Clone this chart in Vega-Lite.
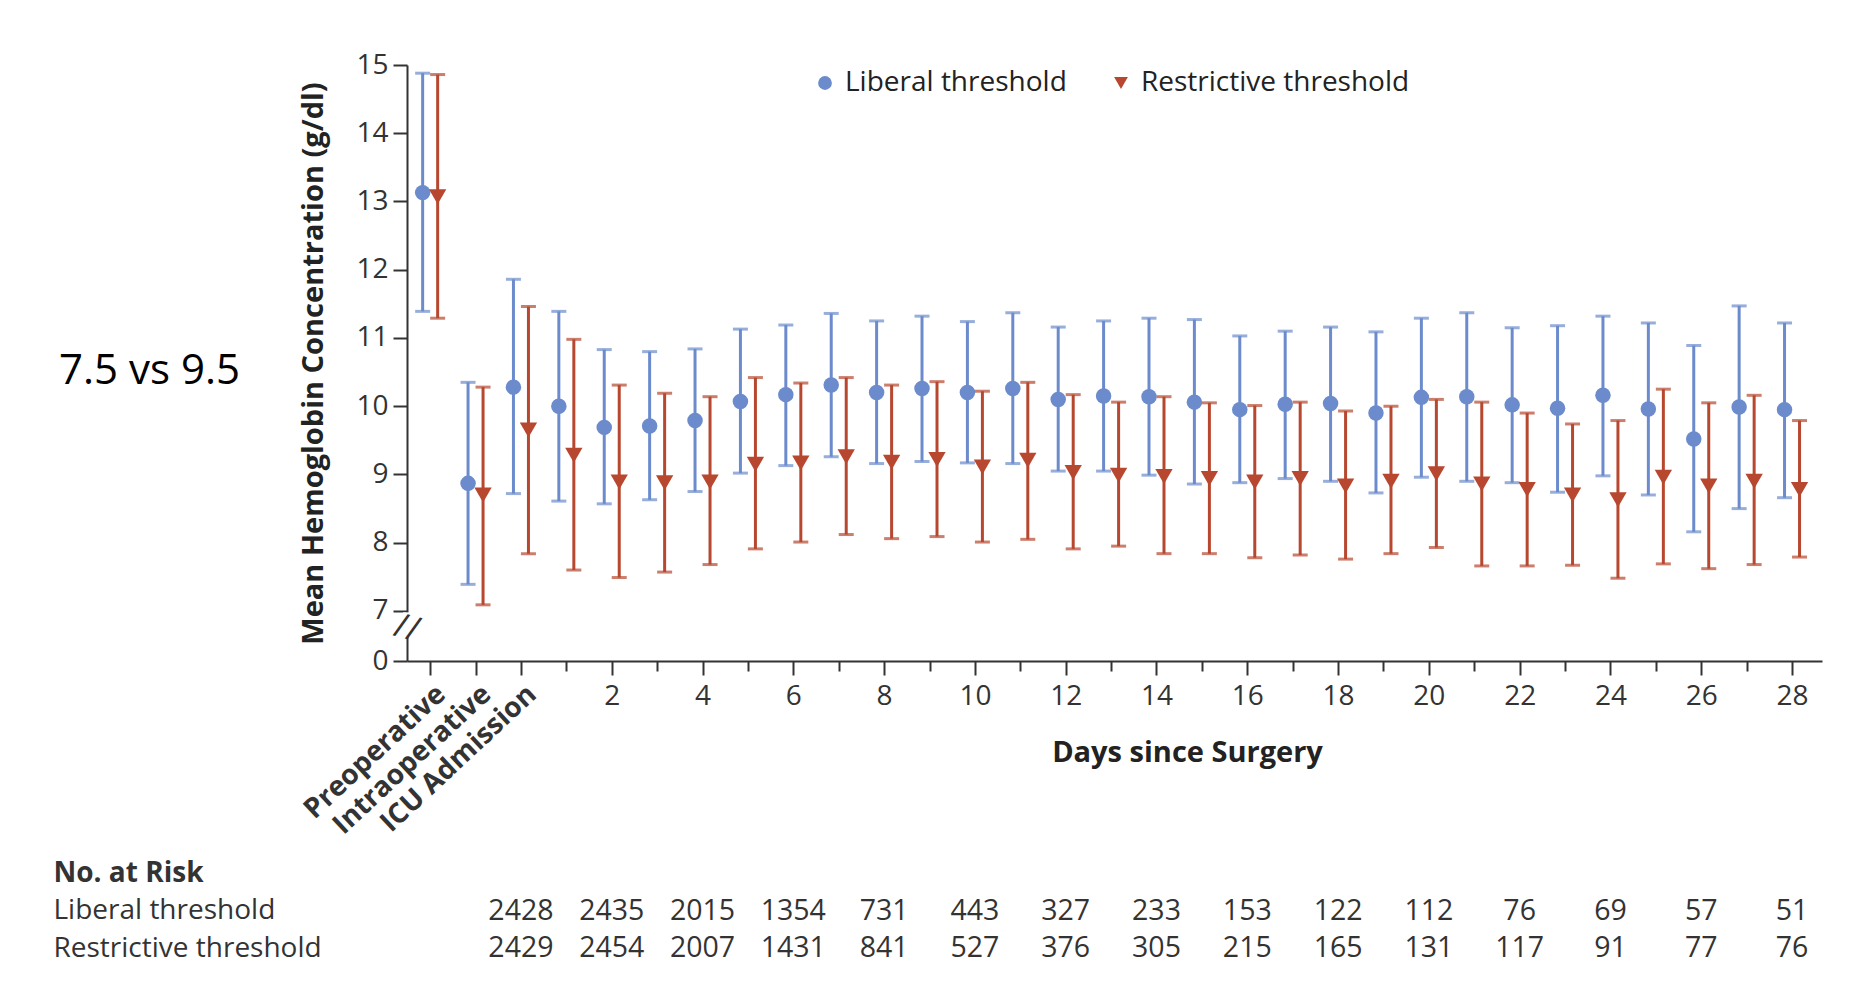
{
  "$schema": "https://vega.github.io/schema/vega-lite/v6.json",
  "width": 1415,
  "height": 596,
  "autosize": {"type": "none"},
  "padding": {"left": 407, "top": 65, "right": 32, "bottom": 336},
  "background": "white",
  "config": {"view": {"stroke": null}, "font": "Open Sans"},
  "title": {"text": "7.5 vs 9.5", "orient": "top", "anchor": "start", "frame": "group", "font": "Open Sans", "fontSize": 42, "fontWeight": "normal", "color": "#000000", "baseline": "middle", "offset": 0, "dx": -348, "dy": 362},
  "datasets": {
    "axisbreak": [{"day": -2.51, "from": 6.62, "to": 6.98, "at": 6.74}]
  },
  "data": {"values": [
    {"group": "Liberal threshold", "day": -2, "mean": 13.13, "lo": 11.39, "hi": 14.88},
    {"group": "Liberal threshold", "day": -1, "mean": 8.87, "lo": 7.39, "hi": 10.35},
    {"group": "Liberal threshold", "day": 0, "mean": 10.28, "lo": 8.72, "hi": 11.86},
    {"group": "Liberal threshold", "day": 1, "mean": 10.0, "lo": 8.61, "hi": 11.39},
    {"group": "Liberal threshold", "day": 2, "mean": 9.69, "lo": 8.57, "hi": 10.83},
    {"group": "Liberal threshold", "day": 3, "mean": 9.71, "lo": 8.63, "hi": 10.8},
    {"group": "Liberal threshold", "day": 4, "mean": 9.79, "lo": 8.75, "hi": 10.84},
    {"group": "Liberal threshold", "day": 5, "mean": 10.07, "lo": 9.02, "hi": 11.13},
    {"group": "Liberal threshold", "day": 6, "mean": 10.17, "lo": 9.13, "hi": 11.19},
    {"group": "Liberal threshold", "day": 7, "mean": 10.31, "lo": 9.26, "hi": 11.36},
    {"group": "Liberal threshold", "day": 8, "mean": 10.2, "lo": 9.16, "hi": 11.25},
    {"group": "Liberal threshold", "day": 9, "mean": 10.26, "lo": 9.19, "hi": 11.32},
    {"group": "Liberal threshold", "day": 10, "mean": 10.2, "lo": 9.17, "hi": 11.24},
    {"group": "Liberal threshold", "day": 11, "mean": 10.26, "lo": 9.16, "hi": 11.37},
    {"group": "Liberal threshold", "day": 12, "mean": 10.1, "lo": 9.05, "hi": 11.16},
    {"group": "Liberal threshold", "day": 13, "mean": 10.15, "lo": 9.05, "hi": 11.25},
    {"group": "Liberal threshold", "day": 14, "mean": 10.14, "lo": 8.99, "hi": 11.29},
    {"group": "Liberal threshold", "day": 15, "mean": 10.06, "lo": 8.86, "hi": 11.27},
    {"group": "Liberal threshold", "day": 16, "mean": 9.95, "lo": 8.88, "hi": 11.03},
    {"group": "Liberal threshold", "day": 17, "mean": 10.03, "lo": 8.94, "hi": 11.1},
    {"group": "Liberal threshold", "day": 18, "mean": 10.04, "lo": 8.9, "hi": 11.16},
    {"group": "Liberal threshold", "day": 19, "mean": 9.9, "lo": 8.73, "hi": 11.09},
    {"group": "Liberal threshold", "day": 20, "mean": 10.13, "lo": 8.96, "hi": 11.29},
    {"group": "Liberal threshold", "day": 21, "mean": 10.14, "lo": 8.9, "hi": 11.37},
    {"group": "Liberal threshold", "day": 22, "mean": 10.02, "lo": 8.88, "hi": 11.15},
    {"group": "Liberal threshold", "day": 23, "mean": 9.97, "lo": 8.74, "hi": 11.18},
    {"group": "Liberal threshold", "day": 24, "mean": 10.16, "lo": 8.98, "hi": 11.32},
    {"group": "Liberal threshold", "day": 25, "mean": 9.96, "lo": 8.7, "hi": 11.22},
    {"group": "Liberal threshold", "day": 26, "mean": 9.52, "lo": 8.16, "hi": 10.89},
    {"group": "Liberal threshold", "day": 27, "mean": 9.99, "lo": 8.5, "hi": 11.47},
    {"group": "Liberal threshold", "day": 28, "mean": 9.95, "lo": 8.66, "hi": 11.22},
    {"group": "Restrictive threshold", "day": -2, "mean": 13.07, "lo": 11.29, "hi": 14.86},
    {"group": "Restrictive threshold", "day": -1, "mean": 8.7, "lo": 7.09, "hi": 10.28},
    {"group": "Restrictive threshold", "day": 0, "mean": 9.65, "lo": 7.84, "hi": 11.46},
    {"group": "Restrictive threshold", "day": 1, "mean": 9.28, "lo": 7.6, "hi": 10.98},
    {"group": "Restrictive threshold", "day": 2, "mean": 8.89, "lo": 7.49, "hi": 10.31},
    {"group": "Restrictive threshold", "day": 3, "mean": 8.88, "lo": 7.57, "hi": 10.19},
    {"group": "Restrictive threshold", "day": 4, "mean": 8.89, "lo": 7.68, "hi": 10.14},
    {"group": "Restrictive threshold", "day": 5, "mean": 9.15, "lo": 7.91, "hi": 10.42},
    {"group": "Restrictive threshold", "day": 6, "mean": 9.17, "lo": 8.01, "hi": 10.34},
    {"group": "Restrictive threshold", "day": 7, "mean": 9.26, "lo": 8.12, "hi": 10.42},
    {"group": "Restrictive threshold", "day": 8, "mean": 9.18, "lo": 8.06, "hi": 10.31},
    {"group": "Restrictive threshold", "day": 9, "mean": 9.22, "lo": 8.09, "hi": 10.36},
    {"group": "Restrictive threshold", "day": 10, "mean": 9.11, "lo": 8.01, "hi": 10.22},
    {"group": "Restrictive threshold", "day": 11, "mean": 9.21, "lo": 8.05, "hi": 10.35},
    {"group": "Restrictive threshold", "day": 12, "mean": 9.03, "lo": 7.91, "hi": 10.17},
    {"group": "Restrictive threshold", "day": 13, "mean": 8.99, "lo": 7.95, "hi": 10.06},
    {"group": "Restrictive threshold", "day": 14, "mean": 8.97, "lo": 7.84, "hi": 10.14},
    {"group": "Restrictive threshold", "day": 15, "mean": 8.94, "lo": 7.84, "hi": 10.05},
    {"group": "Restrictive threshold", "day": 16, "mean": 8.89, "lo": 7.78, "hi": 10.01},
    {"group": "Restrictive threshold", "day": 17, "mean": 8.94, "lo": 7.82, "hi": 10.06},
    {"group": "Restrictive threshold", "day": 18, "mean": 8.83, "lo": 7.76, "hi": 9.93},
    {"group": "Restrictive threshold", "day": 19, "mean": 8.9, "lo": 7.84, "hi": 10.0},
    {"group": "Restrictive threshold", "day": 20, "mean": 9.01, "lo": 7.93, "hi": 10.1},
    {"group": "Restrictive threshold", "day": 21, "mean": 8.86, "lo": 7.66, "hi": 10.06},
    {"group": "Restrictive threshold", "day": 22, "mean": 8.78, "lo": 7.66, "hi": 9.9},
    {"group": "Restrictive threshold", "day": 23, "mean": 8.7, "lo": 7.67, "hi": 9.74},
    {"group": "Restrictive threshold", "day": 24, "mean": 8.63, "lo": 7.48, "hi": 9.79},
    {"group": "Restrictive threshold", "day": 25, "mean": 8.96, "lo": 7.69, "hi": 10.25},
    {"group": "Restrictive threshold", "day": 26, "mean": 8.83, "lo": 7.62, "hi": 10.05},
    {"group": "Restrictive threshold", "day": 27, "mean": 8.9, "lo": 7.68, "hi": 10.16},
    {"group": "Restrictive threshold", "day": 28, "mean": 8.78, "lo": 7.79, "hi": 9.79}
  ]},
  "layer": [
    {
      "encoding": {
        "x": {
          "field": "day", "type": "quantitative", "title": "Days since Surgery",
          "scale": {"domain": [-2.51, 28.66], "nice": false, "zero": false},
          "axis": {
            "orient": "bottom",
            "values": [-2,-1,0,1,2,3,4,5,6,7,8,9,10,11,12,13,14,15,16,17,18,19,20,21,22,23,24,25,26,27,28],
            "labelExpr": "datum.value <= 0 ? '' : (datum.value % 2 == 0 ? datum.label : '')",
            "labelFont": "Open Sans", "labelFontSize": 28, "labelColor": "#333333",
            "labelPadding": 7, "labelOverlap": false, "labelBound": false, "labelFlush": false,
            "tickSize": {"condition": {"test": "datum.value <= 0 || datum.value % 2 == 0", "value": 14}, "value": 10},
            "tickWidth": 2, "tickColor": "#333333", "domainColor": "#333333", "domainWidth": 2, "grid": false,
            "titleFont": "Open Sans", "titleFontSize": 29, "titleFontWeight": "bold", "titleColor": "#222222",
            "titleX": 780, "titleY": 91, "titleAlign": "center", "titleBaseline": "middle"
          }
        }
      },
      "layer": [
        {
          "transform": [{"filter": "datum.group == 'Liberal threshold'"}],
          "layer": [
            {"mark": {"type": "rule", "color": "#6b8bcc", "strokeWidth": 3, "xOffset": -7.5},
             "encoding": {
               "y": {"field": "lo", "type": "quantitative", "title": "Mean Hemoglobin Concentration (g/dl)",
                 "scale": {"domain": [6.267, 15], "nice": false, "zero": false},
                 "axis": {"values": [6.267,7,8,9,10,11,12,13,14,15], "tickCount": 100, "tickMinStep": 0.01,
                   "labelExpr": "datum.value < 6.5 ? '0' : format(datum.value, 'd')", "labelOverlap": false,
                   "labelFont": "Open Sans", "labelFontSize": 28, "labelColor": "#333333", "labelPadding": 5,
                   "tickSize": 14, "tickWidth": 2, "tickColor": "#333333", "domainColor": "#333333", "domainWidth": 2, "grid": false,
                   "titleFont": "Open Sans", "titleFontSize": 29, "titleFontWeight": "bold", "titleColor": "#222222", "titlePadding": 27}},
               "y2": {"field": "hi"}
             }},
            {"mark": {"type": "tick", "orient": "horizontal", "color": "#6b8bcc", "size": 15, "thickness": 3, "xOffset": -7.5},
             "encoding": {"y": {"field": "lo", "type": "quantitative", "title": "Mean Hemoglobin Concentration (g/dl)"}}},
            {"mark": {"type": "tick", "orient": "horizontal", "color": "#6b8bcc", "size": 15, "thickness": 3, "xOffset": -7.5},
             "encoding": {"y": {"field": "hi", "type": "quantitative", "title": "Mean Hemoglobin Concentration (g/dl)"}}},
            {"mark": {"type": "point", "filled": true, "opacity": 1, "size": 240, "xOffset": -7.5},
             "encoding": {
               "y": {"field": "mean", "type": "quantitative", "title": "Mean Hemoglobin Concentration (g/dl)"},
               "color": {"field": "group", "type": "nominal", "scale": {"domain": ["Liberal threshold", "Restrictive threshold"], "range": ["#6b8bcc", "#b7472f"]},
                 "legend": {"orient": "none", "legendX": 404, "legendY": 4, "direction": "horizontal", "title": null, "labelFont": "Open Sans", "labelFontSize": 28, "labelColor": "#222222", "labelLimit": 1000, "symbolSize": 190, "labelOffset": 6, "columnPadding": 40, "symbolStrokeWidth": 0}},
               "shape": {"field": "group", "type": "nominal", "scale": {"domain": ["Liberal threshold", "Restrictive threshold"], "range": ["circle", "triangle-down"]},
                 "legend": {"orient": "none", "legendX": 404, "legendY": 4, "direction": "horizontal", "title": null, "labelFont": "Open Sans", "labelFontSize": 28, "labelColor": "#222222", "labelLimit": 1000, "symbolSize": 190, "labelOffset": 6, "columnPadding": 40, "symbolStrokeWidth": 0}}
             }}
          ]
        },
        {
          "transform": [{"filter": "datum.group == 'Restrictive threshold'"}],
          "layer": [
            {"mark": {"type": "rule", "color": "#b7472f", "strokeWidth": 3, "xOffset": 7.5},
             "encoding": {
               "y": {"field": "lo", "type": "quantitative", "title": "Mean Hemoglobin Concentration (g/dl)"},
               "y2": {"field": "hi"}
             }},
            {"mark": {"type": "tick", "orient": "horizontal", "color": "#b7472f", "size": 15, "thickness": 3, "xOffset": 7.5},
             "encoding": {"y": {"field": "lo", "type": "quantitative", "title": "Mean Hemoglobin Concentration (g/dl)"}}},
            {"mark": {"type": "tick", "orient": "horizontal", "color": "#b7472f", "size": 15, "thickness": 3, "xOffset": 7.5},
             "encoding": {"y": {"field": "hi", "type": "quantitative", "title": "Mean Hemoglobin Concentration (g/dl)"}}},
            {"mark": {"type": "point", "filled": true, "opacity": 1, "size": 300, "xOffset": 7.5},
             "encoding": {
               "y": {"field": "mean", "type": "quantitative", "title": "Mean Hemoglobin Concentration (g/dl)"},
               "color": {"field": "group", "type": "nominal"},
               "shape": {"field": "group", "type": "nominal"}
             }}
          ]
        },
        {
          "data": {"name": "axisbreak"},
          "mark": {"type": "rule", "color": "white", "strokeWidth": 8, "clip": false},
          "encoding": {"y": {"field": "from", "type": "quantitative", "title": "Mean Hemoglobin Concentration (g/dl)"}, "y2": {"field": "to"}}
        },
        {
          "data": {"name": "axisbreak"},
          "mark": {"type": "text", "text": "//", "font": "Open Sans", "fontSize": 34, "color": "#333333", "angle": 15, "baseline": "middle", "align": "center", "clip": false},
          "encoding": {"y": {"field": "at", "type": "quantitative", "title": "Mean Hemoglobin Concentration (g/dl)"}}
        }
      ]
    },
    {
      "data": {"values": [
        {"row": "Liberal threshold", "day": 0, "n": "2428"},
        {"row": "Liberal threshold", "day": 2, "n": "2435"},
        {"row": "Liberal threshold", "day": 4, "n": "2015"},
        {"row": "Liberal threshold", "day": 6, "n": "1354"},
        {"row": "Liberal threshold", "day": 8, "n": "731"},
        {"row": "Liberal threshold", "day": 10, "n": "443"},
        {"row": "Liberal threshold", "day": 12, "n": "327"},
        {"row": "Liberal threshold", "day": 14, "n": "233"},
        {"row": "Liberal threshold", "day": 16, "n": "153"},
        {"row": "Liberal threshold", "day": 18, "n": "122"},
        {"row": "Liberal threshold", "day": 20, "n": "112"},
        {"row": "Liberal threshold", "day": 22, "n": "76"},
        {"row": "Liberal threshold", "day": 24, "n": "69"},
        {"row": "Liberal threshold", "day": 26, "n": "57"},
        {"row": "Liberal threshold", "day": 28, "n": "51"},
        {"row": "Restrictive threshold", "day": 0, "n": "2429"},
        {"row": "Restrictive threshold", "day": 2, "n": "2454"},
        {"row": "Restrictive threshold", "day": 4, "n": "2007"},
        {"row": "Restrictive threshold", "day": 6, "n": "1431"},
        {"row": "Restrictive threshold", "day": 8, "n": "841"},
        {"row": "Restrictive threshold", "day": 10, "n": "527"},
        {"row": "Restrictive threshold", "day": 12, "n": "376"},
        {"row": "Restrictive threshold", "day": 14, "n": "305"},
        {"row": "Restrictive threshold", "day": 16, "n": "215"},
        {"row": "Restrictive threshold", "day": 18, "n": "165"},
        {"row": "Restrictive threshold", "day": 20, "n": "131"},
        {"row": "Restrictive threshold", "day": 22, "n": "117"},
        {"row": "Restrictive threshold", "day": 24, "n": "91"},
        {"row": "Restrictive threshold", "day": 26, "n": "77"},
        {"row": "Restrictive threshold", "day": 28, "n": "76"}
      ]},
      "mark": {"type": "text", "font": "Open Sans", "fontSize": 28.5, "color": "#333333", "baseline": "middle", "align": "center", "clip": false},
      "encoding": {
        "x": {
          "field": "day", "type": "quantitative", "title": null,
          "scale": {"domain": [-2.51, 28.66], "nice": false, "zero": false},
          "axis": {
            "orient": "bottom", "values": [-2, -1, 0],
            "labelExpr": "datum.value == -2 ? 'Preoperative' : datum.value == -1 ? 'Intraoperative' : 'ICU Admission'",
            "domain": false, "ticks": false, "tickSize": 0, "grid": false,
            "labelAngle": -43, "labelAlign": "right", "labelBaseline": "middle",
            "labelPadding": 29, "labelOffset": 11,
            "labelFont": "Open Sans", "labelFontSize": 28, "labelFontWeight": "bold", "labelColor": "#333333",
            "labelOverlap": false, "labelBound": false, "labelFlush": false, "labelLimit": 1000
          }
        },
        "y": {"field": "row", "type": "nominal", "title": null,
          "scale": {"type": "point", "domain": ["No. at Risk", "Liberal threshold", "Restrictive threshold"], "range": [808, 883], "padding": 0},
          "axis": {"orient": "left", "domain": false, "ticks": false, "tickSize": 0, "grid": false, "labelAlign": "left", "labelBaseline": "middle", "labelPadding": 354, "labelLimit": 1000,
            "labelFont": "Open Sans", "labelFontSize": 28, "labelColor": "#333333",
            "labelFontWeight": {"condition": {"test": "datum.value == 'No. at Risk'", "value": "bold"}, "value": "normal"}}},
        "text": {"field": "n", "type": "nominal"}
      }
    }
  ],
  "resolve": {"scale": {"y": "independent"}, "axis": {"y": "independent", "x": "independent"}}
}
